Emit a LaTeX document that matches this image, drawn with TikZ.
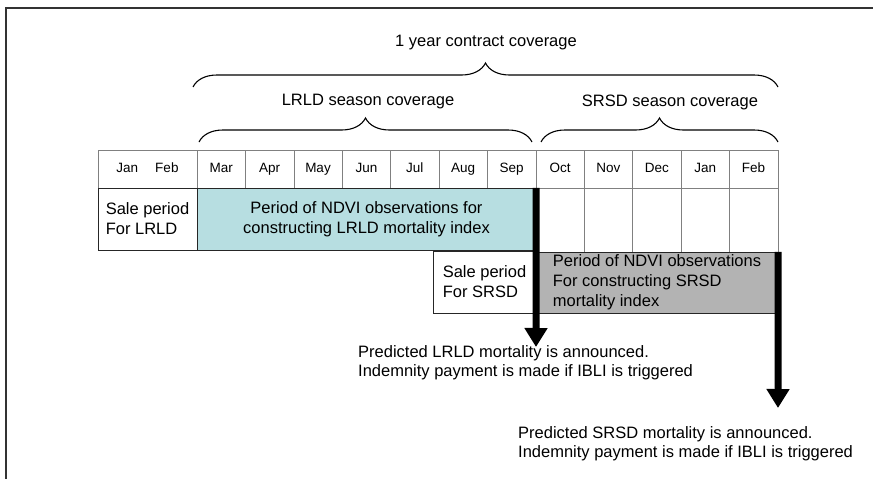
\documentclass[tikz,border=0pt]{standalone}
\usepackage{fontspec}
\setmainfont{Liberation Sans}
\usetikzlibrary{arrows.meta, decorations.pathreplacing}
\definecolor{ndvicyan}{HTML}{B7DEE1}
\definecolor{ndvigray}{HTML}{B3B3B3}

\begin{document}
\begin{tikzpicture}[x=1pt, y=-1pt,
	month/.style={shape=rectangle, draw=gray, minimum width=48.4pt, minimum height=38pt, inner sep=0pt, text height=10pt, text depth=3pt, font=\fontsize{13.5}{16}\selectfont},
	blankcell/.style={shape=rectangle, draw=gray, minimum width=48.4pt, minimum height=64pt, inner sep=0pt},
	periodbox/.style={shape=rectangle, draw=black!85, inner sep=0pt, font=\fontsize{16.5}{20}\selectfont},
	heading/.style={inner sep=0pt, font=\fontsize{16.5}{20}\selectfont},
	note/.style={inner sep=0pt, align=left, font=\fontsize{16.5}{19}\selectfont},
	coverbrace/.style={decorate, decoration={brace, amplitude=24pt}, line width=1.1pt},
	payarrow/.style={-{Triangle[width=22pt, length=19pt]}, line width=7pt, black}]
	\useasboundingbox (0,0) rectangle (873,479);
	\draw[line width=2pt, black!80] (873,8) -- (6,8) -- (6,479);
	
	% headings and braces
	\node[heading] (yearlabel) at (486,43) {1 year contract coverage};
	\node[heading] (lrldlabel) at (368,102) {LRLD season coverage};
	\node[heading] (srsdlabel) at (670,102) {SRSD season coverage};
	\draw[coverbrace] (193,87) -- (778,87);
	\draw[coverbrace] (199,142) -- (532,142);
	\draw[coverbrace] (541,142) -- (778,142);
	
	% month row
	\node[month, minimum width=99pt] (janfeb) at (147.5,169) {Jan\hspace{17pt}Feb};
	\node[month] (mar) at (221.2,169) {Mar};
	\node[month] (apr) at (269.6,169) {Apr};
	\node[month] (may) at (318.0,169) {May};
	\node[month] (jun) at (366.4,169) {Jun};
	\node[month] (jul) at (414.8,169) {Jul};
	\node[month] (aug) at (463.2,169) {Aug};
	\node[month] (sep) at (511.6,169) {Sep};
	\node[month] (oct) at (560.0,169) {Oct};
	\node[month] (nov) at (608.4,169) {Nov};
	\node[month] (dec) at (656.8,169) {Dec};
	\node[month] (jan) at (705.2,169) {Jan};
	\node[month] (feb) at (753.6,169) {Feb};
	
	\node[blankcell] (octcell) at (560.0,220) {};
	\node[blankcell] (novcell) at (608.4,220) {};
	\node[blankcell] (deccell) at (656.8,220) {};
	\node[blankcell] (jancell) at (705.2,220) {};
	\node[blankcell] (febcell) at (753.6,220) {};
	
	% periods
	\node[periodbox, fill=white, minimum width=99pt, minimum height=62pt, align=left] (salelrld) at (147.5,219) {Sale period\\For LRLD};
	\node[periodbox, fill=ndvicyan, minimum width=339pt, minimum height=62pt, align=center] (ndvilrld) at (366.5,219) {Period of NDVI observations for\\constructing LRLD mortality index};
	\node[periodbox, fill=white, minimum width=103pt, minimum height=62pt, align=left] (salesrsd) at (484.5,282) {Sale period\\For SRSD};
	\node[periodbox, fill=ndvigray, minimum width=242pt, minimum height=61pt, align=left] (ndvisrsd) at (657,282.5) {Period of NDVI observations\\For constructing SRSD\\mortality index};
	
	% announcements
	\coordinate (lrldtip) at (536,347);
	\coordinate (srsdtip) at (778,408);
	\draw[payarrow] (ndvilrld.north east) -- (lrldtip);
	\draw[payarrow] (ndvisrsd.north east) -- (srsdtip);
	\node[note, anchor=west] (lrldnote) at (358,362.5) {Predicted LRLD mortality is announced.\\Indemnity payment is made if IBLI is triggered};
	\node[note, anchor=west] (srsdnote) at (518,444) {Predicted SRSD mortality is announced.\\Indemnity payment is made if IBLI is triggered};
\end{tikzpicture}
\end{document}
